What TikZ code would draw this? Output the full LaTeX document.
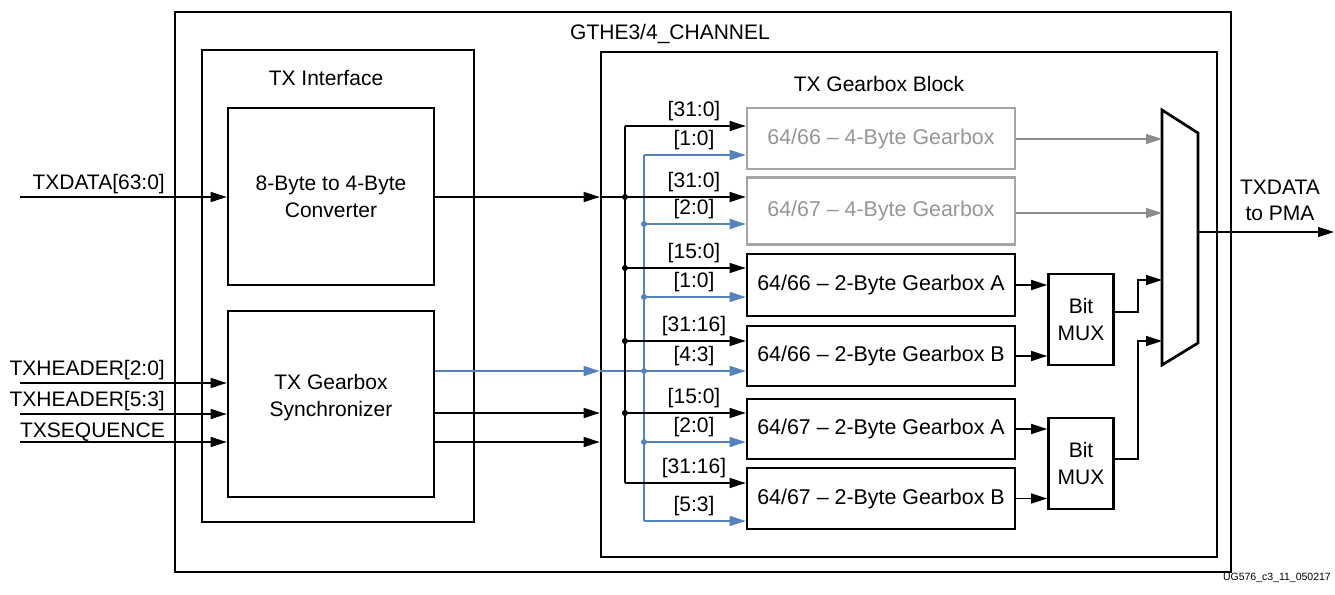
\documentclass[tikz,border=0pt]{standalone}
\usepackage{fontspec}
\setmainfont{Liberation Sans}
\usetikzlibrary{arrows.meta}
\definecolor{busblue}{RGB}{84,130,189}
\definecolor{dimgray}{RGB}{165,165,165}
\definecolor{dimtext}{RGB}{150,150,150}
\definecolor{dimwire}{RGB}{140,140,140}
\begin{document}
\begin{tikzpicture}[x=1pt,y=-1pt,
  txt/.style={font=\fontsize{21}{26}\selectfont, inner sep=0pt},
  blk/.style={draw, line width=2.7pt, inner sep=0pt, align=center, font=\fontsize{21}{27}\selectfont},
  gbox/.style={blk, minimum width=268pt, font=\fontsize{21.4}{27}\selectfont},
  dimbox/.style={gbox, draw=dimgray, text=dimtext},
  wire/.style={line width=1.4pt},
  arrtip/.style={-{Triangle[length=16pt,width=10pt]}},
  buslbl/.style={txt, anchor=base},
  dotk/.style={circle, fill, inner sep=0pt, minimum size=6pt},
  inlbl/.style={txt, anchor=base east},
]
\useasboundingbox (0,0) rectangle (1335,594);
\fill[white] (0,0) rectangle (1335,594);

% containers
\node[blk, minimum width=1056pt, minimum height=560pt] (chan) at (703,292) {};
\node[txt] (chanlbl) at (670,34) {GTHE3/4\_CHANNEL};
\node[blk, minimum width=272pt, minimum height=472pt] (txif) at (338,286) {};
\node[txt] (txiflbl) at (326,78) {TX Interface};
\node[blk, minimum width=206pt, minimum height=177pt] (conv) at (331,196.5) {8-Byte to 4-Byte\\Converter};
\node[blk, minimum width=206pt, minimum height=186pt] (sync) at (331,404) {};
\node[txt, align=center, font=\fontsize{21}{27}\selectfont] (synclbl) at (331,398) {TX Gearbox\\Synchronizer};
\node[blk, minimum width=616pt, minimum height=505pt] (gbb) at (909,304.5) {};
\node[txt] (gbblbl) at (879,84) {TX Gearbox Block};

% gearboxes
\node[dimbox, minimum height=61pt] (g1) at (881,138.5) {64/66 \textendash{} 4-Byte Gearbox};
\node[dimbox, minimum height=67pt] (g2) at (881,211) {64/67 \textendash{} 4-Byte Gearbox};
\node[gbox, minimum height=62pt] (g3) at (881,285) {64/66 \textendash{} 2-Byte Gearbox A};
\node[gbox, minimum height=60pt] (g4) at (881,356) {64/66 \textendash{} 2-Byte Gearbox B};
\node[gbox, minimum height=60pt] (g5) at (881,429) {64/67 \textendash{} 2-Byte Gearbox A};
\node[gbox, minimum height=61pt] (g6) at (881,498.5) {64/67 \textendash{} 2-Byte Gearbox B};

% bit muxes
\node[blk, minimum width=65pt, minimum height=91pt] (bm1) at (1081,319.5) {Bit\\MUX};
\node[blk, minimum width=65pt, minimum height=91pt] (bm2) at (1081,463.5) {Bit\\MUX};

% output mux
\coordinate (mtl) at (1162,110);
\coordinate (mtr) at (1198,133);
\coordinate (mbr) at (1198,343);
\coordinate (mbl) at (1162,365);
\draw[line width=2.7pt, line join=miter, fill=white] (mtl) -- (mtr) -- (mbr) -- (mbl) -- cycle;
\coordinate (min1) at (1162,139);
\coordinate (min2) at (1162,213);
\coordinate (min3) at (1162,280);
\coordinate (min4) at (1162,341);
\coordinate (mout) at (1198,232);
\coordinate (outend) at (1334,232);

% bus coordinates
\foreach \i/\y in {1/126,2/197,3/268,4/341,5/413,6/483} \coordinate (bk\i) at (625,\y);
\foreach \i/\y in {1/155,2/224,3/297,4/371,5/442,6/521} \coordinate (bl\i) at (644,\y);

% inputs
\coordinate (i1) at (20,197);
\coordinate (i2) at (20,383);
\coordinate (i3) at (20,414);
\coordinate (i4) at (20,442);
\draw[wire,arrtip] (i1) -- (i1 -| conv.west);
\draw[wire,arrtip] (i2) -- (i2 -| sync.west);
\draw[wire,arrtip] (i3) -- (i3 -| sync.west);
\draw[wire,arrtip] (i4) -- (i4 -| sync.west);
\node[inlbl] (l1) at (165,189) {TXDATA[63:0]};
\node[inlbl] (l2) at (165,375) {TXHEADER[2:0]};
\node[inlbl] (l3) at (165,406) {TXHEADER[5:3]};
\node[inlbl] (l4) at (165,437) {TXSEQUENCE};

% interface to gearbox block
\draw[wire,arrtip] (conv.east |- bk2) -- (bk2 -| gbb.west);
\draw[wire] (bk2 -| gbb.west) -- (bk2);
\draw[wire,busblue,arrtip] (sync.east |- bl4) -- (bl4 -| gbb.west);
\draw[wire,busblue] (bl4 -| gbb.west) -- (bl4);
\draw[wire,arrtip] (sync.east |- bk5) -- (bk5 -| gbb.west);
\draw[wire,arrtip] (sync.east |- bl5) -- (bl5 -| gbb.west);

% buses
\draw[wire] (bk1) -- (bk6);
\draw[wire,busblue] (bl1) -- (bl6);
\foreach \i in {1,...,6} \draw[wire,arrtip] (bk\i) -- (bk\i -| g\i.west);
\foreach \i in {1,...,6} \draw[wire,busblue,arrtip] (bl\i) -- (bl\i -| g\i.west);
\foreach \i in {2,...,5} \node[dotk] (dk\i) at (bk\i) {};
\foreach \i in {2,...,5} \node[dotk, fill=busblue] (db\i) at (bl\i) {};

% bus labels
\foreach \y/\t [count=\k] in {126/{[31:0]},155/{[1:0]},197/{[31:0]},224/{[2:0]},268/{[15:0]},297/{[1:0]},341/{[31:16]},371/{[4:3]},413/{[15:0]},442/{[2:0]},483/{[31:16]},521/{[5:3]}}
  \node[buslbl] (lab\k) at (694,\y-10) {\t};

% gearbox outputs
\draw[wire,dimwire,arrtip] (g1.east |- min1) -- (min1);
\draw[wire,dimwire,arrtip] (g2.east |- min2) -- (min2);
\draw[wire,arrtip] (g3.east) -- (g3.east -| bm1.west);
\draw[wire,arrtip] (g4.east) -- (g4.east -| bm1.west);
\draw[wire,arrtip] (g5.east) -- (g5.east -| bm2.west);
\draw[wire,arrtip] (g6.east) -- (g6.east -| bm2.west);

% bit mux outputs
\coordinate (j1) at (1138,312);
\coordinate (j2) at (1138,459);
\draw[wire,arrtip] (bm1.east |- j1) -- (j1) |- (min3);
\draw[wire,arrtip] (bm2.east |- j2) -- (j2) |- (min4);

% output
\draw[wire,arrtip] (mout) -- (outend);
\node[txt, align=center] (outlbl) at (1280,200) {TXDATA\\to PMA};

\node[font=\fontsize{10.5}{12}\selectfont, anchor=base east, inner sep=0pt] (fn) at (1331,580) {UG576\_c3\_11\_050217};
\end{tikzpicture}
\end{document}
